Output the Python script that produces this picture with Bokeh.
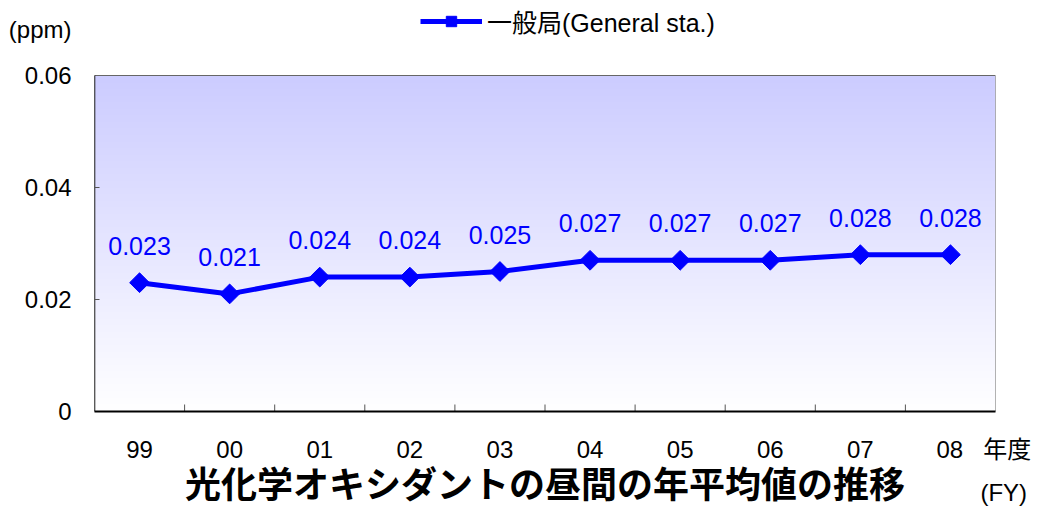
import numpy as np
from bokeh.plotting import figure
from bokeh.models import (FactorRange, Range1d, LinearAxis, CategoricalAxis, FixedTicker,
                          NumeralTickFormatter, Legend, LegendItem, ColumnDataSource)
from bokeh.transform import dodge
from bokeh.embed import file_html
from bokeh.resources import INLINE
from bokeh.core.properties import value

# ---- data ----
years = ["99", "00", "01", "02", "03", "04", "05", "06", "07", "08"]
general = [0.023, 0.021, 0.024, 0.024, 0.025, 0.027, 0.027, 0.027, 0.028, 0.028]
y_ticks = [0, 0.02, 0.04, 0.06]
y_minor = [0.02, 0.04]
value_labels = [f"{v:.3f}" for v in general]
series_name = "一般局(General sta.)"
unit_text = "(ppm)"
fy_jp = "年度"
fy_en = "(FY)"
title_text = "光化学オキシダントの昼間の年平均値の推移"

BLUE = "#0000ff"
MIXED = "Liberation Sans, Noto Sans CJK JP"
NB = "\u00a0"

# the last category label also carries the axis unit 年度 / (FY)
x_labels = years[:-1] + [NB * 10 + years[-1] + NB * 3 + fy_jp + "\n" + NB * 16 + fy_en]

# layout: plot area 94..995 x 75..411 px; frame reaches canvas top so the
# legend can sit inside it above the plot area
W, H = 1038, 508
AREA_TOP, AREA_BOTTOM = 75, 411
y_max = y_ticks[-1]
y_frame_top = y_max * AREA_BOTTOM / (AREA_BOTTOM - AREA_TOP)
y_unit = y_max * (AREA_BOTTOM - 29) / (AREA_BOTTOM - AREA_TOP)

p = figure(width=W, height=H, title=None,
           x_range=FactorRange(factors=x_labels, range_padding=0),
           y_range=Range1d(0, y_frame_top),
           output_backend="svg", toolbar_location=None,
           x_axis_location=None, y_axis_location=None,
           min_border_left=94, min_border_right=43, min_border_top=0,
           min_border_bottom=H - AREA_BOTTOM)
p.grid.visible = False
p.outline_line_color = None
p.background_fill_color = "white"
p.border_fill_color = "white"

# gradient background of the plot area
N = 256
t = np.linspace(0, 1, N)
img = np.empty((N, 1), dtype=np.uint32)
view = img.view(dtype=np.uint8).reshape((N, 1, 4))
view[:, 0, 0] = (255 - 51 * t).astype(np.uint8)
view[:, 0, 1] = (255 - 51 * t).astype(np.uint8)
view[:, 0, 2] = 255
view[:, 0, 3] = 255
box = ColumnDataSource(dict(image=[img], l=[x_labels[0]], r=[x_labels[-1]], b=[0], t=[y_max],
                            dw=[len(x_labels)], dh=[y_max]))
p.image_rgba(image="image", x=dodge("l", -0.5, range=p.x_range), y="b", dw="dw", dh="dh",
             source=box)
# plot-area border
p.quad(left=dodge("l", -0.5, range=p.x_range), right=dodge("r", 0.5, range=p.x_range),
       bottom="b", top="t", source=box, fill_alpha=0, line_color="#666666", line_width=1)
p.segment(x0=dodge("l", -0.5, range=p.x_range), y0="b",
          x1=dodge("l", -0.5, range=p.x_range), y1="t", source=box,
          line_color="black", line_width=1.5)

# category boundary tick marks (inside, at bottom)
tick_src = ColumnDataSource(dict(x=x_labels[:-1], y=[0] * (len(x_labels) - 1)))
p.scatter(x=dodge("x", 0.5, range=p.x_range), y="y", source=tick_src, marker="dash",
          angle=np.pi / 2, size=14, line_color="#555555", line_width=1)

# x axis (axis label = chart title)
cat_axis = CategoricalAxis(axis_line_color="black", axis_line_width=2,
                           major_tick_line_color=None, minor_tick_line_color=None,
                           major_tick_in=0, major_tick_out=0,
                           major_label_standoff=24,
                           major_label_text_font_size="24px",
                           major_label_text_font=MIXED,
                           major_label_text_color="black",
                           major_label_text_line_height=1.6,
                           axis_label=title_text,
                           axis_label_text_font=MIXED,
                           axis_label_text_font_size="36px",
                           axis_label_text_font_style="bold",
                           axis_label_text_color="black",
                           axis_label_standoff=-44)
p.add_layout(cat_axis, "below")

# y axis: value ticks plus the unit label above them
y_axis = LinearAxis(ticker=FixedTicker(ticks=y_ticks + [y_unit], minor_ticks=y_minor),
                    formatter=NumeralTickFormatter(format="0.[00]"),
                    major_label_overrides={y_unit: unit_text},
                    major_tick_in=0, major_tick_out=0, minor_tick_in=5, minor_tick_out=0,
                    minor_tick_line_color="#555555",
                    axis_line_color=None,
                    major_label_standoff=23,
                    major_label_text_font_size="24px",
                    major_label_text_font="Liberation Sans",
                    major_label_text_color="black")
p.add_layout(y_axis, "left")

# series
line_r = p.line(x_labels, general, line_width=5, color=BLUE)
mark_r = p.scatter(x_labels, general, marker="square", angle=np.pi / 4, size=14,
                   color=BLUE)
p.text(x=x_labels, y=general, text=value_labels, y_offset=-37,
       text_align="center", text_baseline="middle", text_color=BLUE,
       text_font=value("Liberation Sans"), text_font_size="25px")

legend = Legend(items=[LegendItem(label=series_name, renderers=[line_r, mark_r])],
                location=(326, 372), orientation="horizontal",
                glyph_width=62, glyph_height=26, label_standoff=5,
                label_text_font=MIXED, label_text_font_size="25px",
                label_text_color="black",
                background_fill_alpha=0, border_line_color=None,
                padding=0, margin=0, spacing=0)
p.add_layout(legend, "center")

open("out.html", "w").write(file_html(p, INLINE))
